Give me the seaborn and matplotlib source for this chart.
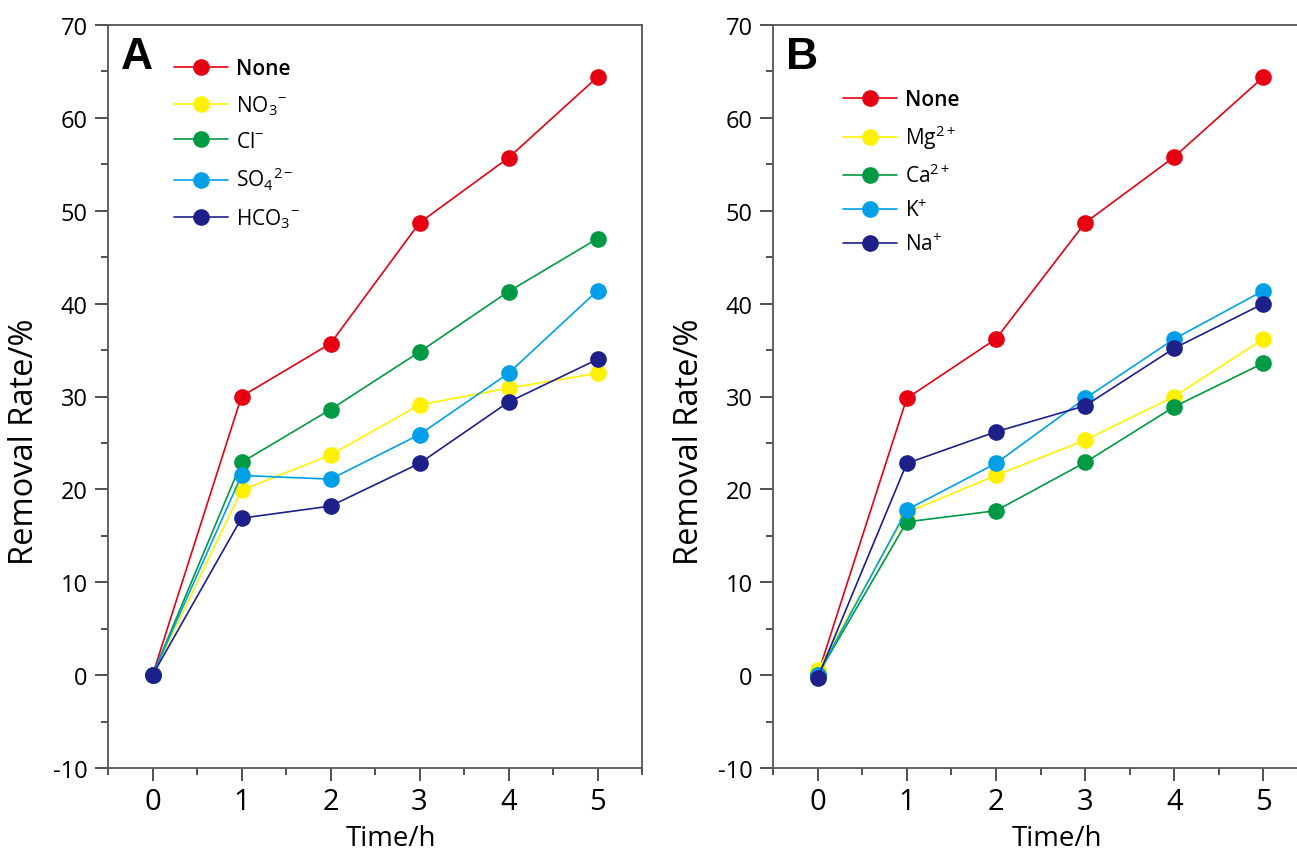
import numpy as np
import pandas as pd
import seaborn as sns
import matplotlib.pyplot as plt
from matplotlib.ticker import MultipleLocator

sns.set_theme(style="ticks")
plt.rcParams["font.family"] = ["Open Sans", "DejaVu Sans"]
plt.rcParams["mathtext.fontset"] = "custom"
plt.rcParams["mathtext.rm"] = "Open Sans"
plt.rcParams["mathtext.it"] = "Open Sans:italic"
plt.rcParams["mathtext.default"] = "rm"
plt.rcParams["axes.unicode_minus"] = False
plt.rcParams["text.color"] = "black"
plt.rcParams["axes.labelcolor"] = "black"
plt.rcParams["xtick.labelcolor"] = "black"
plt.rcParams["ytick.labelcolor"] = "black"

# time points (h)
time_h = [0, 1, 2, 3, 4, 5]

# panel A: anions
anion_labels = ["None", "NO$_3$$^{-}$", "Cl$^{-}$", "SO$_4$$^{2-}$", "HCO$_3$$^{-}$"]
none_a = [0, 30.0, 35.7, 48.7, 55.7, 64.4]
no3 = [0, 19.9, 23.7, 29.1, 30.9, 32.5]
cl = [0, 22.9, 28.6, 34.8, 41.3, 47.0]
so4 = [0, 21.5, 21.1, 25.9, 32.5, 41.4]
hco3 = [0, 16.9, 18.2, 22.8, 29.4, 34.0]

# panel B: cations
cation_labels = ["None", "Mg$^{2+}$", "Ca$^{2+}$", "K$^{+}$", "Na$^{+}$"]
none_b = [0, 29.8, 36.2, 48.7, 55.8, 64.4]
mg = [0.5, 17.5, 21.5, 25.3, 30.0, 36.2]
ca = [0, 16.5, 17.7, 22.9, 28.9, 33.6]
k = [0, 17.8, 22.8, 29.8, 36.2, 41.4]
na = [-0.3, 22.8, 26.2, 29.0, 35.2, 40.0]

colors = ["#E60012", "#FFF100", "#009944", "#00A0E9", "#1D2088"]


def long_df(labels, series):
    rows = []
    for lab, vals in zip(labels, series):
        for t, v in zip(time_h, vals):
            rows.append({"ion": lab, "time": t, "rate": v})
    return pd.DataFrame(rows)


dfA = long_df(anion_labels, [none_a, no3, cl, so4, hco3])
dfB = long_df(cation_labels, [none_b, mg, ca, k, na])

W, H = 1297, 854
fig = plt.figure(figsize=(W / 100, H / 100), dpi=100)
axA = fig.add_axes([108 / W, 1 - 769 / H, 534 / W, 743 / H])
axB = fig.add_axes([773 / W, 1 - 769 / H, 535 / W, 743 / H])

panels = [
    (axA, dfA, anion_labels, "A", (0.123, 0.955), 0.66),
    (axB, dfB, cation_labels, "B", (0.13, 0.914), 0.6),
]

for ax, df, labels, letter, leg_pos, spacing in panels:
    sns.lineplot(
        data=df, x="time", y="rate", hue="ion", hue_order=labels,
        palette=colors, marker="o", markersize=12, markeredgewidth=0,
        linewidth=1.2, ax=ax, legend=False,
    )
    ax.set_xlim(-0.5, 5.5)
    ax.set_ylim(-10, 70)
    ax.xaxis.set_major_locator(MultipleLocator(1))
    ax.xaxis.set_minor_locator(MultipleLocator(0.5))
    ax.yaxis.set_major_locator(MultipleLocator(10))
    ax.yaxis.set_minor_locator(MultipleLocator(5))
    ax.tick_params(which="major", direction="out", length=9.5, width=1.2,
                   color="#333333", pad=5)
    ax.tick_params(which="minor", direction="out", length=5, width=1.2,
                   color="#333333")
    ax.tick_params(axis="y", labelsize=17)
    ax.tick_params(axis="x", labelsize=21, pad=4)
    for sp in ax.spines.values():
        sp.set_linewidth(1.3)
        sp.set_color("#555555")
    ax.set_xlabel("Time/h", fontsize=20, va="top")
    ax.xaxis.set_label_coords(0.53, -0.075)
    ax.set_ylabel("Removal Rate/%", fontsize=23.5)
    ax.yaxis.set_label_coords(-0.125, 0.44)
    ax.text(0.025, 0.958, letter, transform=ax.transAxes, fontsize=32,
            fontweight="bold", va="center", ha="left",
            family=["Liberation Sans", "DejaVu Sans"])

    handles = [
        plt.Line2D([], [], color=c, marker="o", markersize=12,
                   markeredgewidth=0, linewidth=1.2)
        for c in colors
    ]
    leg = ax.legend(handles, labels, loc="upper left", bbox_to_anchor=leg_pos,
                    frameon=False, fontsize=15, handlelength=2.6,
                    handletextpad=0.4, labelspacing=spacing, borderpad=0,
                    borderaxespad=0)
    leg.get_texts()[0].set_fontweight("semibold")

fig.savefig("out.png", dpi=100)
